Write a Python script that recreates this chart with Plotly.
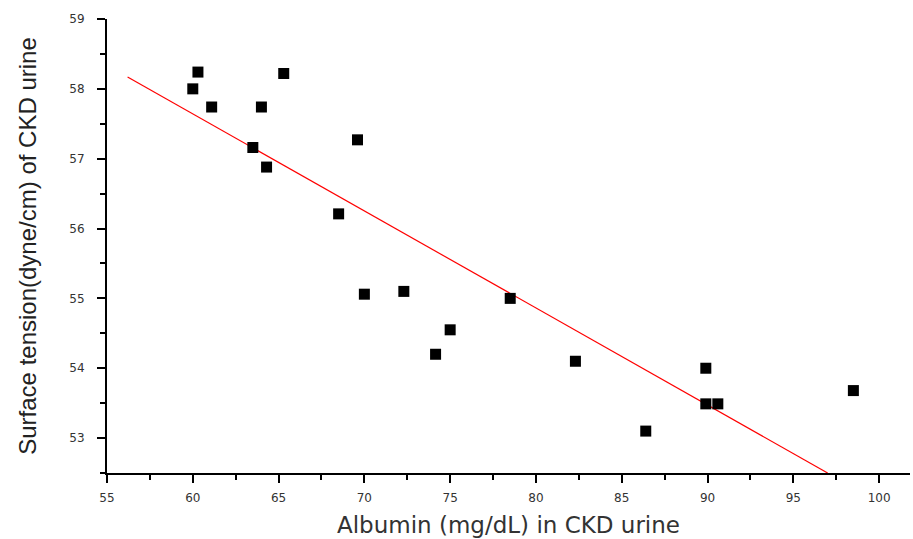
import plotly.graph_objects as go

# Data
albumin = [60.0, 60.3, 61.1, 63.5, 64.0, 64.3, 65.3, 68.5, 69.6, 70.0,
           72.3, 74.15, 75.0, 78.5, 82.3, 86.4, 89.9, 89.9, 90.6, 98.5]
surface_tension = [58.0, 58.24, 57.74, 57.16, 57.74, 56.88, 58.22, 56.21, 57.27, 55.06,
                   55.1, 54.2, 54.55, 55.0, 54.1, 53.1, 54.0, 53.49, 53.49, 53.68]
fit_x = [56.2, 97.0]
fit_y = [58.17, 52.5]

x_ticks = [55, 60, 65, 70, 75, 80, 85, 90, 95, 100]
y_ticks = [53, 54, 55, 56, 57, 58, 59]

fig = go.Figure()
fig.add_trace(go.Scatter(
    x=fit_x, y=fit_y, mode="lines",
    line=dict(color="#ff0000", width=1.2), showlegend=False, hoverinfo="skip"))
fig.add_trace(go.Scatter(
    x=albumin, y=surface_tension, mode="markers",
    marker=dict(symbol="square", size=11, color="black"), showlegend=False))

axis_font = dict(family="DejaVu Sans, sans-serif", size=12, color="#333333")

fig.update_layout(
    width=913, height=539,
    margin=dict(l=107, r=3, t=19, b=66),
    plot_bgcolor="white", paper_bgcolor="white",
    xaxis=dict(
        range=[55, 101.8], tickvals=x_ticks, ticktext=[str(v) for v in x_ticks],
        showgrid=False, zeroline=False, showline=True, linecolor="black", linewidth=2,
        ticks="outside", ticklen=8, tickwidth=2, tickcolor="black",
        minor=dict(ticks="outside", ticklen=5, tickwidth=1.5, tickcolor="black", dtick=2.5),
        tickfont=axis_font, ticklabelstandoff=5,
        title=dict(text="Albumin (mg/dL) in CKD urine",
                   font=dict(family="DejaVu Sans, sans-serif", size=23, color="#333333"),
                   standoff=12),
    ),
    yaxis=dict(
        range=[52.5, 59], tickvals=y_ticks, ticktext=[str(v) for v in y_ticks],
        showgrid=False, zeroline=False, showline=True, linecolor="black", linewidth=2,
        ticks="outside", ticklen=8, tickwidth=2, tickcolor="black",
        minor=dict(ticks="outside", ticklen=5, tickwidth=1.5, tickcolor="black", dtick=0.5),
        tickfont=axis_font, ticklabelstandoff=10,
        title=dict(text="Surface tension(dyne/cm) of CKD urine",
                   font=dict(family="Liberation Sans, Arial, sans-serif", size=24, color="#222222"),
                   standoff=26),
    ),
)

fig.write_html("out.html")
